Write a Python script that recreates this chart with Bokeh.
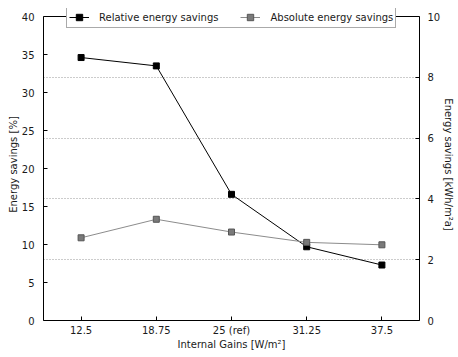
from bokeh.plotting import figure
from bokeh.models import (FactorRange, Range1d, LinearAxis, SingleIntervalTicker,
                          Grid, Legend, LegendItem, Span)
from bokeh.embed import file_html
from bokeh.resources import INLINE

gains = ["12.5", "18.75", "25 (ref)", "31.25", "37.5"]
relative_savings = [34.6, 33.5, 16.6, 9.7, 7.3]
absolute_savings = [2.72, 3.33, 2.91, 2.57, 2.49]
rel_max = 40
abs_max = 10

FONT = "DejaVu Sans"
FS = "10px"
TXT = "#1a1a1a"

# frame extends 8px above the top spine so the legend may overlap it
head = 312 / 304

p = figure(width=458, height=357,
           x_range=FactorRange(*gains, range_padding=0),
           y_range=Range1d(0, rel_max * head),
           output_backend="svg", toolbar_location=None,
           min_border_left=43, min_border_right=39,
           min_border_top=8, min_border_bottom=37)
p.extra_y_ranges = {"abs": Range1d(0, abs_max * head)}

p.background_fill_color = "white"
p.border_fill_color = "white"
p.outline_line_color = None
p.xgrid.visible = False
p.ygrid.visible = False

def style_axis(ax, standoff, label_standoff):
    ax.axis_line_color = "black"
    ax.major_tick_in = 4
    ax.major_tick_out = 0
    ax.major_tick_line_color = "black"
    ax.minor_tick_line_color = None
    ax.major_label_text_font = FONT
    ax.major_label_text_font_size = FS
    ax.major_label_text_color = TXT
    ax.major_label_standoff = standoff
    ax.axis_label_text_font = FONT
    ax.axis_label_text_font_size = FS
    ax.axis_label_text_font_style = "normal"
    ax.axis_label_text_color = TXT
    ax.axis_label_standoff = label_standoff

left = p.left[0]
left.ticker = SingleIntervalTicker(interval=5)
left.bounds = (0, rel_max)
left.axis_label = "Energy savings [%]"
style_axis(left, 5, 0)

bottom = p.below[0]
bottom.axis_label = "Internal Gains [W/m²]"
style_axis(bottom, 4, 0)

right_ticker = SingleIntervalTicker(interval=2)
right = LinearAxis(y_range_name="abs", ticker=right_ticker, bounds=(0, abs_max),
                   axis_label="Energy savings [kWh/m²a]")
style_axis(right, 4, 0)
p.add_layout(right, "right")

grid = Grid(dimension=1, ticker=right_ticker, y_range_name="abs",
            grid_line_color="#999999", grid_line_dash="1 2", grid_line_width=1)
p.add_layout(grid)

top_spine = Span(location=rel_max, dimension="width", line_color="black", line_width=1)
p.add_layout(top_spine)

l1 = p.line(gains, relative_savings, line_color="black", line_width=1)
s1 = p.scatter(gains, relative_savings, marker="square", size=6,
               fill_color="black", line_color="black")
l2 = p.line(gains, absolute_savings, y_range_name="abs",
            line_color="#8c8c8c", line_width=1)
s2 = p.scatter(gains, absolute_savings, y_range_name="abs", marker="square",
               size=6, fill_color="#7a7a7a", line_color="#555555")

legend = Legend(items=[LegendItem(label="Relative energy savings", renderers=[l1, s1]),
                       LegendItem(label="Absolute energy savings", renderers=[l2, s2])],
                orientation="horizontal", location=(23, 292),
                label_text_font=FONT, label_text_font_size=FS,
                label_text_color=TXT,
                border_line_color="#555555", border_line_width=1,
                background_fill_color="white", background_fill_alpha=1,
                padding=2, spacing=22, margin=0,
                glyph_width=20, glyph_height=16, label_height=16,
                label_standoff=10)
p.add_layout(legend)

open("out.html", "w").write(file_html(p, INLINE))
